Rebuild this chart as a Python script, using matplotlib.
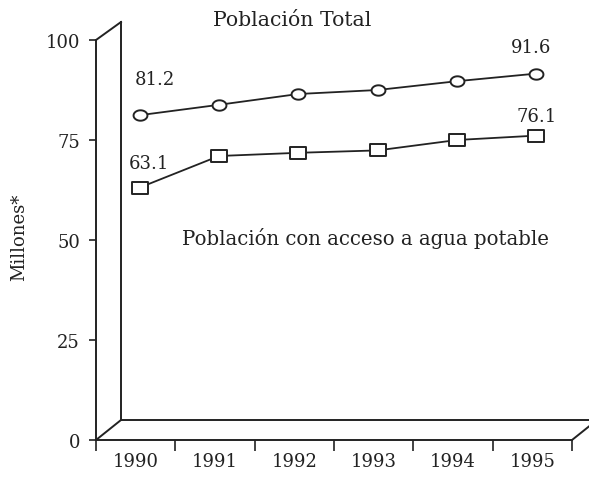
import matplotlib
matplotlib.use("Agg")
import matplotlib.pyplot as plt
import numpy as np
from matplotlib.path import Path

years = ["1990", "1991", "1992", "1993", "1994", "1995"]
total = [81.2, 83.8, 86.5, 87.5, 89.7, 91.6]
acceso = [63.1, 71.0, 71.8, 72.4, 75.0, 76.1]
yticks = [0, 25, 50, 75, 100]

FONT = "DejaVu Serif"
plt.rcParams["font.family"] = [FONT]

W, H = 589, 481
fig = plt.figure(figsize=(W / 100, H / 100), dpi=100)
fig.patch.set_facecolor("white")
ax = fig.add_axes([96 / W, 40 / H, 476 / W, 400 / H])
ax.set_facecolor("none")

n = len(years)
xpos = np.arange(n) + 0.55

t = np.linspace(0, 2 * np.pi, 40)
ell = Path(np.column_stack([np.cos(t), 0.75 * np.sin(t)]), closed=True)
rect = Path([(-1, -0.8), (1, -0.8), (1, 0.8), (-1, 0.8), (-1, -0.8)], closed=True)

INK = "#222222"
lw = 1.3
ax.plot(xpos, total, color=INK, lw=lw, marker=ell, ms=10,
        mfc="white", mec=INK, mew=1.4, clip_on=False, zorder=3)
ax.plot(xpos, acceso, color=INK, lw=lw, marker=rect, ms=11,
        mfc="white", mec=INK, mew=1.4, clip_on=False, zorder=3)

fs = 13
ax.annotate(f"{total[0]:.1f}", (xpos[0], total[0]), xytext=(11, 26),
            textcoords="offset points", ha="center", va="center", fontsize=fs, color=INK)
ax.annotate(f"{acceso[0]:.1f}", (xpos[0], acceso[0]), xytext=(7, 18),
            textcoords="offset points", ha="center", va="center", fontsize=fs, color=INK)
ax.annotate(f"{total[-1]:.1f}", (xpos[-1], total[-1]), xytext=(-4, 19),
            textcoords="offset points", ha="center", va="center", fontsize=fs, color=INK)
ax.annotate(f"{acceso[-1]:.1f}", (xpos[-1], acceso[-1]), xytext=(0, 14),
            textcoords="offset points", ha="center", va="center", fontsize=fs, color=INK)

ax.text(2.47, 105.0, "Población Total", ha="center", va="center",
        fontsize=14.7, color=INK)
ax.text(3.40, 50.7, "Población con acceso a agua potable", ha="center",
        va="center", fontsize=14.2, color=INK)

ax.set_xlim(0, n)
ax.set_ylim(0, 100)
ax.set_yticks(yticks)
ax.set_yticklabels([str(v) for v in yticks], fontsize=fs, color=INK)
ax.set_xticks(np.arange(n + 1))
ax.set_xticklabels([])
ax.set_xticks(np.arange(n) + 0.5, minor=True)
ax.set_xticklabels(years, minor=True, fontsize=fs, color=INK)
ax.tick_params(axis="y", direction="out", length=5, width=1.2, pad=6.5, color=INK)
ax.tick_params(axis="x", which="major", direction="out", length=8, width=1.2, color=INK)
ax.tick_params(axis="x", which="minor", length=0, pad=9)
ax.text(-77 / 476, 0.51, "Millones*", transform=ax.transAxes, rotation=90,
        ha="center", va="center", fontsize=fs, color=INK)

for s in ["top", "right"]:
    ax.spines[s].set_visible(False)
for s in ["left", "bottom"]:
    ax.spines[s].set_linewidth(1.4)
    ax.spines[s].set_color(INK)

dxf = 25 / 476
dyf = 20 / 400
kw = dict(transform=ax.transAxes, color=INK, lw=1.4, clip_on=False)
ax.plot([0, dxf], [1, 1 + dyf * 0.9], **kw)
ax.plot([dxf, dxf], [1 + dyf * 0.9, dyf], **kw)
ax.plot([0, dxf], [0, dyf], **kw)
ax.plot([dxf, 1 + dxf], [dyf, dyf], **kw)
ax.plot([1, 1 + dxf], [0, dyf], **kw)

fig.savefig("out.png", dpi=100, facecolor="white")
